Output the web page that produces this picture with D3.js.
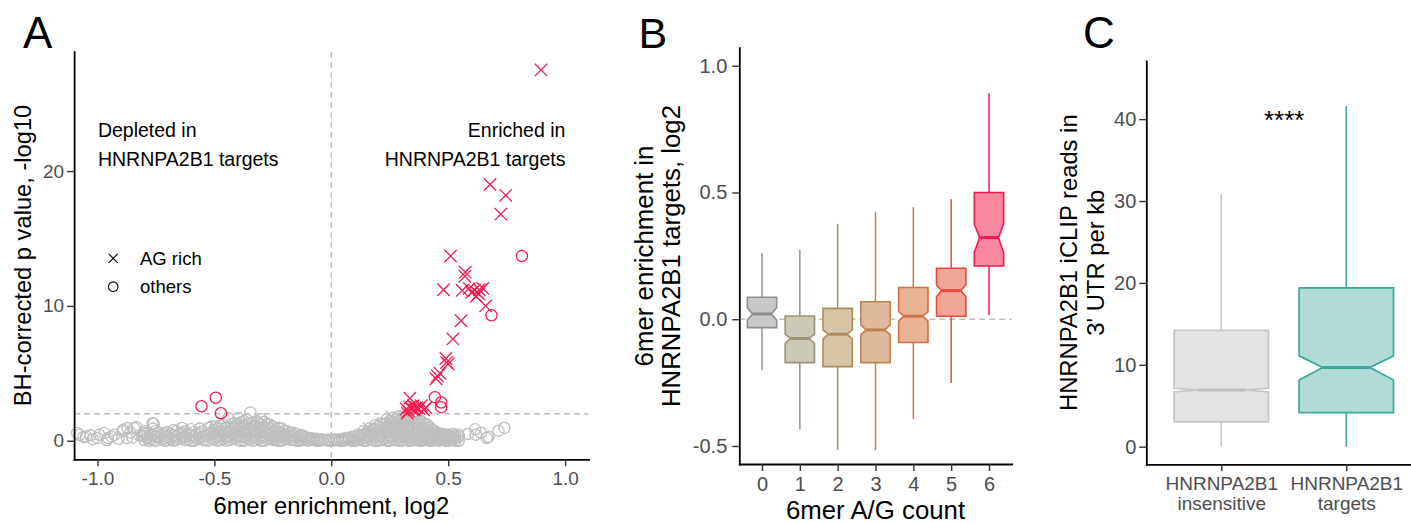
<!DOCTYPE html>
<html><head><meta charset="utf-8">
<script src="https://cdn.jsdelivr.net/npm/d3@7"></script>
<style>
body{margin:0;background:#fff}
svg{display:block}
text{font-family:"Liberation Sans",Arial,Helvetica,sans-serif}
</style>
</head><body>
<svg id="c" width="1411" height="523"></svg>
<script>
// ---------------- Panel A data ----------------
const aXTicks = [-1.0, -0.5, 0.0, 0.5, 1.0];
const aYTicks = [0, 10, 20];
const redAG = [[0.897,27.5],[0.679,19.0],[0.746,18.2],[0.725,16.8],[0.51,13.7],[0.573,12.5],[0.571,12.2],
  [0.48,11.2],[0.56,11.15],[0.59,11.3],[0.612,11.15],[0.633,11.2],[0.648,11.3],[0.60,11.0],[0.62,10.7],
  [0.63,10.9],[0.66,10.0],[0.555,8.9],[0.52,7.55],[0.493,5.8],[0.49,6.1],[0.5,5.7],[0.454,4.8],[0.465,5.0],
  [0.448,4.6],[0.336,3.16],[0.32,2.35],[0.33,2.2],[0.335,2.5],[0.345,2.35],[0.35,2.6],[0.355,2.3],
  [0.365,2.45],[0.375,2.4],[0.385,2.6],[0.395,2.3],[0.405,2.45],[0.325,2.05]];
const redOthers = [[0.815,13.7],[0.685,9.3],[0.443,3.23],[0.47,2.84],[0.47,2.49],[-0.555,2.56],[-0.494,3.19],[-0.472,2.04]];
const greyAG = [[0.159,0.95],[0.257,1.8],[0.22,1.2],[0.29,1.45]];
const greyFarLeft = [[-1.087,0.57],[-1.077,0.44],[-1.06,0.27],[-1.049,0.32],[-1.03,0.4],[-1.02,0.12],[-1.0,0.2],
  [-0.992,0.44],[-0.97,0.57],[-0.96,0.05],[-0.955,0.2],[-0.94,0.32],[-0.928,0.44],[-0.91,0.15],[-0.893,0.69],
  [-0.89,0.81],[-0.874,0.2],[-0.872,0.94],[-0.86,0.6],[-0.85,0.25],[-0.843,0.94],[-0.833,1.0],[-0.82,0.4],
  [-0.81,0.35],[-0.8,0.57],[-0.78,0.0],[-0.765,1.3],[-0.759,1.26]];
// columns: [x, [y values]]
const greyCols = [
  [-0.80,[0.05,0.35,0.7]],[-0.775,[0.15,0.5]],[-0.75,[0.0,0.3,0.75]],[-0.725,[0.1,0.45]],
  [-0.70,[0.05,0.3,0.65]],[-0.675,[0.0,0.4,0.8]],[-0.65,[0.15,0.5]],[-0.625,[0.05,0.3,0.7]],
  [-0.60,[0.0,0.4,0.85]],[-0.575,[0.1,0.5]],[-0.55,[0.05,0.3,0.7]],[-0.525,[0.0,0.45,0.95]],
  [-0.50,[0.15,0.5,0.8]],[-0.494,[1.06]],[-0.475,[0.05,0.35,0.7,1.1]],[-0.45,[0.0,0.3,0.65,1.0]],
  [-0.44,[1.68]],[-0.425,[0.1,0.45,0.85,1.25]],[-0.40,[0.05,0.4,0.8,1.2]],[-0.397,[1.68]],
  [-0.375,[0.0,0.3,0.7,1.1,1.45]],[-0.35,[0.1,0.45,0.9,1.3]],[-0.346,[2.1]],[-0.325,[0.05,0.35,0.75,1.15]],
  [-0.318,[1.43]],[-0.30,[0.0,0.4,0.8,1.2,1.6]],[-0.275,[0.1,0.45,0.85,1.25]],[-0.25,[0.05,0.35,0.7,1.05]],
  [-0.225,[0.0,0.3,0.65,0.95]],[-0.20,[0.1,0.4,0.75]],[-0.175,[0.05,0.3,0.6]],[-0.15,[0.0,0.25,0.5]],
  [-0.125,[0.05,0.3,0.4]],[-0.10,[0.0,0.2]],[-0.075,[0.05,0.15]],[-0.05,[0.0,0.1]],[-0.025,[0.05]],
  [0.0,[0.0]],[0.025,[0.05,0.1]],[0.05,[0.0,0.15]],[0.075,[0.05,0.2]],[0.10,[0.0,0.3]],
  [0.125,[0.1,0.4]],[0.15,[0.0,0.3,0.6]],[0.175,[0.05,0.45,0.8]],[0.20,[0.0,0.35,0.7,1.05]],
  [0.225,[0.1,0.5,0.9,1.25]],[0.25,[0.0,0.35,0.75,1.15,1.45]],[0.275,[0.05,0.45,0.85,1.25,1.6]],
  [0.30,[0.0,0.4,0.8,1.2,1.65]],[0.32,[0.1,0.5,0.9,1.35,1.8]],[0.34,[0.0,0.35,0.75,1.15,1.55]],
  [0.36,[0.05,0.45,0.85,1.25,1.7]],[0.38,[0.0,0.4,0.8,1.2,1.5]],[0.40,[0.1,0.45,0.85,1.25]],
  [0.42,[0.0,0.35,0.7,1.0]],[0.44,[0.05,0.4,0.75]],[0.46,[0.0,0.3,0.55]],[0.48,[0.05,0.35,0.5]],
  [0.50,[0.0,0.3,0.45]],[0.52,[0.05,0.25,0.5]],[0.545,[0.0,0.3,0.45]]];
const greyCols2 = [
  [-0.7875,[0.2,0.55]],[-0.7625,[0.05,0.4,0.9]],[-0.7375,[0.25,0.6]],[-0.7125,[0.0,0.2,0.55]],
  [-0.6875,[0.15,0.5]],[-0.6625,[0.05,0.3,0.7]],[-0.6375,[0.2,0.55,0.95]],[-0.6125,[0.1,0.5]],
  [-0.5875,[0.0,0.3,0.65]],[-0.5625,[0.2,0.55,0.9]],[-0.5375,[0.05,0.35]],[-0.5125,[0.2,0.6,1.05]],
  [-0.4875,[0.0,0.3,0.6,0.9]],[-0.4625,[0.15,0.5,0.85,1.2]],[-0.4375,[0.05,0.3,0.6,1.05]],
  [-0.4125,[0.2,0.55,0.95,1.3]],[-0.3875,[0.0,0.3,0.65,1.0,1.35]],[-0.3625,[0.2,0.55,0.85,1.2,1.55]],
  [-0.3375,[0.0,0.3,0.6,1.0,1.35]],[-0.3125,[0.15,0.55,0.95,1.3]],[-0.2875,[0.0,0.3,0.65,1.05,1.4]],
  [-0.2625,[0.15,0.5,0.9,1.2]],[-0.2375,[0.05,0.25,0.55,0.85]],[-0.2125,[0.0,0.3,0.55,0.9]],
  [-0.1875,[0.15,0.45,0.7]],[-0.1625,[0.1,0.35,0.6]],[-0.1375,[0.0,0.15,0.35]],[-0.1125,[0.1,0.3]],
  [-0.0875,[0.05,0.2]],[-0.0625,[0.0,0.15]],[-0.0375,[0.05,0.1]],[-0.0125,[0.0,0.08]],[0.0125,[0.03,0.1]],
  [0.0375,[0.0,0.1]],[0.0625,[0.05,0.2]],[0.0875,[0.0,0.15,0.3]],[0.1125,[0.05,0.25,0.45]],
  [0.1375,[0.0,0.2,0.45,0.7]],[0.1625,[0.1,0.35,0.65,0.9]],[0.1875,[0.0,0.25,0.55,0.85,1.15]],
  [0.2125,[0.05,0.3,0.6,0.95,1.3]],[0.2375,[0.0,0.25,0.6,0.95,1.3,1.6]],[0.2625,[0.1,0.3,0.6,1.0,1.35,1.7]],
  [0.2875,[0.0,0.25,0.6,1.0,1.45,1.8]],[0.31,[0.05,0.3,0.6,1.0,1.5,1.9]],[0.33,[0.0,0.25,0.6,1.05,1.4,1.7]],
  [0.35,[0.1,0.3,0.65,1.0,1.4,1.85]],[0.37,[0.05,0.25,0.6,0.95,1.35,1.65]],[0.39,[0.0,0.3,0.6,1.0,1.4]],
  [0.41,[0.05,0.25,0.6,0.95,1.2]],[0.43,[0.0,0.2,0.5,0.85]],[0.45,[0.1,0.25,0.55]],[0.47,[0.05,0.2,0.45]],
  [0.49,[0.0,0.2,0.4]],[0.51,[0.1,0.35]],[0.53,[0.0,0.2,0.4]]];
const greyTail = [[0.585,0.5],[0.615,0.85],[0.618,0.45],[0.64,0.6],[0.665,0.2],[0.672,0.3],[0.715,0.75],[0.74,0.95]];

// ---------------- Panel B data ----------------
const agCount   = ["0","1","2","3","4","5","6"];
const agLower   = [-0.20,-0.434,-0.516,-0.516,-0.394,-0.252,0.017];
const agQ1      = [-0.033,-0.171,-0.187,-0.171,-0.092,0.012,0.21];
const agNotchLo = [-0.003,-0.095,-0.078,-0.062,-0.007,0.089,0.264];
const agMedian  = [0.021,-0.076,-0.059,-0.042,0.012,0.113,0.322];
const agNotchHi = [0.045,-0.059,-0.042,-0.022,0.03,0.135,0.375];
const agQ3      = [0.087,0.013,0.043,0.069,0.125,0.201,0.5];
const agUpper   = [0.26,0.274,0.376,0.422,0.442,0.473,0.891];
const bYTicks   = [-0.5, 0.0, 0.5, 1.0];
const agStroke  = ["#8E8E8E","#9C927A","#AE8B5B","#BF834A","#D2703F","#E8493B","#F21B4F"];
const agFill    = ["#C8C8C8","#CBC8B6","#D5C5A6","#DDBA9B","#E6B495","#F2A698","#F8889F"];

// ---------------- Panel C data ----------------
const grpLine1  = ["HNRNPA2B1","HNRNPA2B1"];
const grpLine2  = ["insensitive","targets"];
const cLower    = [0, 0];
const cQ1       = [3.02, 4.16];
const cNotchLo  = [6.69, 8.15];
const cMedian   = [6.93, 9.66];
const cNotchHi  = [7.14, 11.09];
const cQ3       = [14.2, 19.4];
const cUpper    = [30.8, 41.6];
const cYTicks   = [0, 10, 20, 30, 40];
const cStroke   = ["#C6C6C6","#3AA99B"];
const cFill     = ["#E3E3E3","#AFDCD6"];
const cMedStroke= ["#BDBDBD","#3AA99B"];

// ---------------- helpers ----------------
const svg = d3.select("#c");
const RED = "#F21B4F", GREY = "#BEBEBE";
const TICKCOL = "#4D4D4D";

function styleAxis(g, fs) {
  g.select(".domain").attr("stroke","#000").attr("stroke-width",1.8).attr("stroke-linecap","square");
  g.selectAll(".tick line").attr("stroke","#333").attr("stroke-width",1.4);
  g.selectAll(".tick text").attr("fill",TICKCOL).attr("font-size",fs)
    .attr("font-family",'"Liberation Sans",Arial,sans-serif');
}
function crossPath(cx, cy, s) {
  return `M${cx-s},${cy-s}L${cx+s},${cy+s}M${cx-s},${cy+s}L${cx+s},${cy-s}`;
}
function notchPath(xl, xr, ind, q1, nlo, med, nhi, q3) {
  return `M${xl},${q1}L${xl},${nlo}L${xl+ind},${med}L${xl},${nhi}L${xl},${q3}` +
         `L${xr},${q3}L${xr},${nhi}L${xr-ind},${med}L${xr},${nlo}L${xr},${q1}Z`;
}
const fmt1 = d => d.toFixed(1);

// ================= Panel A =================
const xA = d3.scaleLinear().domain([-1.1, 1.1]).range([74.1, 588.5]);
const yA = d3.scaleLinear().domain([-1.375, 28.85]).range([459.3, 51.7]);
const gA = svg.append("g");

gA.append("line").attr("x1",xA(0)).attr("x2",xA(0)).attr("y1",yA.range()[1]).attr("y2",yA.range()[0])
  .attr("stroke",GREY).attr("stroke-width",1.4).attr("stroke-dasharray","6,4");
gA.append("line").attr("x1",xA.range()[0]).attr("x2",xA.range()[1]).attr("y1",yA(2)).attr("y2",yA(2))
  .attr("stroke",GREY).attr("stroke-width",1.4).attr("stroke-dasharray","6,4");

const greyPts = greyFarLeft.concat(
  greyCols.flatMap(c => c[1].map(v => [c[0], v])),
  greyCols2.flatMap(c => c[1].map(v => [c[0], v])),
  greyTail);
gA.append("g").selectAll("circle").data(greyPts).join("circle")
  .attr("cx", d => xA(d[0])).attr("cy", d => yA(d[1])).attr("r", 5.6)
  .attr("fill","none").attr("stroke",GREY).attr("stroke-width",1.3);
gA.append("g").selectAll("path").data(greyAG).join("path")
  .attr("d", d => crossPath(xA(d[0]), yA(d[1]), 6)).attr("fill","none")
  .attr("stroke",GREY).attr("stroke-width",1.3);
gA.append("g").selectAll("circle").data(redOthers).join("circle")
  .attr("cx", d => xA(d[0])).attr("cy", d => yA(d[1])).attr("r", 5.6)
  .attr("fill","none").attr("stroke",RED).attr("stroke-width",1.3);
gA.append("g").selectAll("path").data(redAG).join("path")
  .attr("d", d => crossPath(xA(d[0]), yA(d[1]), 6.2)).attr("fill","none")
  .attr("stroke",RED).attr("stroke-width",1.3);

const axAx = gA.append("g").attr("transform",`translate(0,${yA.range()[0]})`)
  .call(d3.axisBottom(xA).tickValues(aXTicks).tickFormat(fmt1).tickSize(7).tickPadding(5).tickSizeOuter(0));
styleAxis(axAx, 19);
const axAy = gA.append("g").attr("transform",`translate(${xA.range()[0]},0)`)
  .call(d3.axisLeft(yA).tickValues(aYTicks).tickSize(7).tickPadding(3).tickSizeOuter(0));
styleAxis(axAy, 19);

gA.append("text").attr("x",331.3).attr("y",514).attr("text-anchor","middle").attr("font-size",23.7).text("6mer enrichment, log2");
gA.append("text").attr("transform","translate(31,255.5) rotate(-90)").attr("text-anchor","middle").attr("font-size",23.7)
  .text("BH-corrected p value, -log10");
gA.append("text").attr("x",97.9).attr("y",137).attr("font-size",19.5).text("Depleted in");
gA.append("text").attr("x",97.9).attr("y",166).attr("font-size",19.5).text("HNRNPA2B1 targets");
gA.append("text").attr("x",565.4).attr("y",137).attr("text-anchor","end").attr("font-size",19.5).text("Enriched in");
gA.append("text").attr("x",565.4).attr("y",166).attr("text-anchor","end").attr("font-size",19.5).text("HNRNPA2B1 targets");
// legend
gA.append("path").attr("d",crossPath(113.2,258.3,4.5)).attr("stroke","#000").attr("stroke-width",1.1).attr("fill","none");
gA.append("circle").attr("cx",113.2).attr("cy",286.7).attr("r",4.8).attr("stroke","#000").attr("stroke-width",1.1).attr("fill","none");
gA.append("text").attr("x",140).attr("y",264.5).attr("font-size",18.5).text("AG rich");
gA.append("text").attr("x",140).attr("y",292.8).attr("font-size",18.5).text("others");
svg.append("text").attr("x",23).attr("y",48.3).attr("font-size",44).text("A");

// ================= Panel B =================
const xB = d3.scalePoint().domain(agCount).range([739.3, 1011.7]).padding(0.6);
const yB = d3.scaleLinear().domain([-0.571, 1.071]).range([464, 47.7]);
const gB = svg.append("g");
gB.append("line").attr("x1",xB.range()[0]).attr("x2",xB.range()[1]).attr("y1",yB(0)).attr("y2",yB(0))
  .attr("stroke",GREY).attr("stroke-width",1.4).attr("stroke-dasharray","6,4");
const bw = xB.step() * 0.775;
agCount.forEach((c, i) => {
  const cx = xB(c), col = agStroke[i];
  gB.append("line").attr("x1",cx).attr("x2",cx).attr("y1",yB(agUpper[i])).attr("y2",yB(agQ3[i]))
    .attr("stroke",col).attr("stroke-width",1.5);
  gB.append("line").attr("x1",cx).attr("x2",cx).attr("y1",yB(agQ1[i])).attr("y2",yB(agLower[i]))
    .attr("stroke",col).attr("stroke-width",1.5);
  const xl = cx - bw/2, xr = cx + bw/2, ind = bw*0.18;
  gB.append("path").attr("d", notchPath(xl, xr, ind, yB(agQ1[i]), yB(agNotchLo[i]), yB(agMedian[i]), yB(agNotchHi[i]), yB(agQ3[i])))
    .attr("fill",agFill[i]).attr("stroke",col).attr("stroke-width",1.6).attr("stroke-linejoin","miter");
  gB.append("line").attr("x1",xl+ind).attr("x2",xr-ind).attr("y1",yB(agMedian[i])).attr("y2",yB(agMedian[i]))
    .attr("stroke",col).attr("stroke-width",3);
});
const axBx = gB.append("g").attr("transform",`translate(0,${yB.range()[0]})`)
  .call(d3.axisBottom(xB).tickSize(7).tickPadding(6).tickSizeOuter(0));
styleAxis(axBx, 20);
const axBy = gB.append("g").attr("transform",`translate(${xB.range()[0]},0)`)
  .call(d3.axisLeft(yB).tickValues(bYTicks).tickFormat(fmt1).tickSize(7).tickPadding(5).tickSizeOuter(0));
styleAxis(axBy, 20);
gB.append("text").attr("x",875.5).attr("y",518.5).attr("text-anchor","middle").attr("font-size",25.8).text("6mer A/G count");
gB.append("text").attr("transform","translate(652.5,256) rotate(-90)").attr("text-anchor","middle").attr("font-size",25.8)
  .text("6mer enrichment in");
gB.append("text").attr("transform","translate(680,256) rotate(-90)").attr("text-anchor","middle").attr("font-size",25.8)
  .text("HNRNPA2B1 targets, log2");
svg.append("text").attr("x",638.5).attr("y",48.3).attr("font-size",43).text("B");

// ================= Panel C =================
const xC = d3.scalePoint().domain(grpLine2).range([1146.3, 1421.3]).padding(0.6);
const yC = d3.scaleLinear().domain([-2.15, 47.1]).range([464.3, 61]);
const gC = svg.append("g");
const cw = xC.step() * 0.755;
grpLine2.forEach((c, i) => {
  const cx = xC(c), col = cStroke[i];
  gC.append("line").attr("x1",cx).attr("x2",cx).attr("y1",yC(cUpper[i])).attr("y2",yC(cQ3[i]))
    .attr("stroke",col).attr("stroke-width",1.6);
  gC.append("line").attr("x1",cx).attr("x2",cx).attr("y1",yC(cQ1[i])).attr("y2",yC(cLower[i]))
    .attr("stroke",col).attr("stroke-width",1.6);
  const xl = cx - cw/2, xr = cx + cw/2, ind = cw*0.25;
  gC.append("path").attr("d", notchPath(xl, xr, ind, yC(cQ1[i]), yC(cNotchLo[i]), yC(cMedian[i]), yC(cNotchHi[i]), yC(cQ3[i])))
    .attr("fill",cFill[i]).attr("stroke",col).attr("stroke-width",1.7);
  gC.append("line").attr("x1",xl+ind).attr("x2",xr-ind).attr("y1",yC(cMedian[i])).attr("y2",yC(cMedian[i]))
    .attr("stroke",cMedStroke[i]).attr("stroke-width",3);
});
const axCx = gC.append("g").attr("transform",`translate(0,${yC.range()[0]})`)
  .call(d3.axisBottom(xC).tickSize(7).tickSizeOuter(0).tickFormat(""));
styleAxis(axCx, 19);
axCx.selectAll(".tick").each(function(d, i) {
  const t = d3.select(this).append("text").attr("fill",TICKCOL).attr("font-size",19).attr("text-anchor","middle")
    .attr("font-family",'"Liberation Sans",Arial,sans-serif');
  t.append("tspan").attr("x",0).attr("y",26).text(grpLine1[i]);
  t.append("tspan").attr("x",0).attr("y",46).text(grpLine2[i]);
});
const axCy = gC.append("g").attr("transform",`translate(${xC.range()[0]},0)`)
  .call(d3.axisLeft(yC).tickValues(cYTicks).tickSize(7).tickPadding(3).tickSizeOuter(0));
styleAxis(axCy, 20);
gC.append("text").attr("x",1284.2).attr("y",128.6).attr("text-anchor","middle").attr("font-size",26).text("****");
gC.append("text").attr("transform","translate(1077,262.7) rotate(-90)").attr("text-anchor","middle").attr("font-size",23.8)
  .text("HNRNPA2B1 iCLIP reads in");
gC.append("text").attr("transform","translate(1103.5,262.7) rotate(-90)").attr("text-anchor","middle").attr("font-size",23.8)
  .text("3' UTR per kb");
svg.append("text").attr("x",1083).attr("y",48.3).attr("font-size",44).text("C");
</script>
</body></html>
